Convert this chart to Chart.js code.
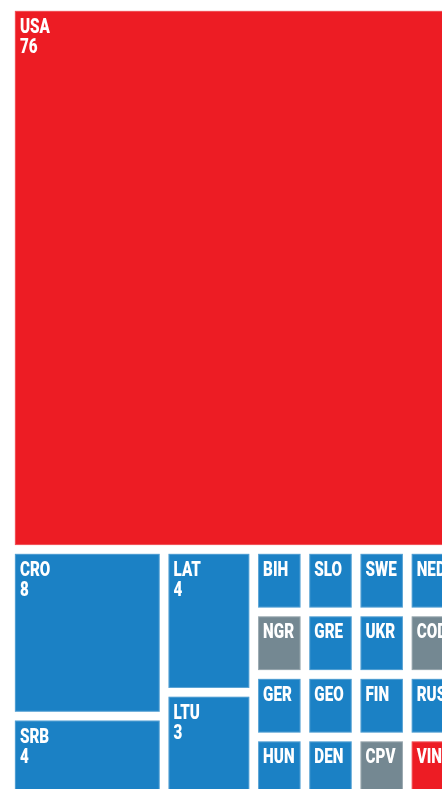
<!DOCTYPE html>
<html>
<head>
<meta charset="utf-8">
<script src="https://cdn.jsdelivr.net/npm/chart.js@4.4.1/dist/chart.umd.min.js"></script>
<style>
    html, body { margin: 0; padding: 0; background: #fff; overflow: hidden; }
    #wrap { position: absolute; left: 0; top: 0; width: 470px; height: 810px; }
</style>
</head>
<body>
<div id="wrap"><canvas id="treeChart"></canvas></div>
<script>
// medal counts per country (treemap cells)
const countries = ['USA', 'CRO', 'SRB', 'LAT', 'LTU',
    'BIH', 'SLO', 'SWE', 'NED', 'NGR', 'GER', 'HUN', 'GRE',
    'UKR', 'COD', 'GEO', 'DEN', 'FIN', 'RUS', 'CPV', 'VIN'];
const values = [76, 8, 4, 4, 3,
    1, 1, 1, 1, 1, 1, 1, 1,
    1, 1, 1, 1, 1, 1, 1, 1];
const regions = ['america', 'europe', 'europe', 'europe', 'europe',
    'europe', 'europe', 'europe', 'europe', 'africa', 'europe', 'europe', 'europe',
    'europe', 'africa', 'europe', 'europe', 'europe', 'europe', 'africa', 'america'];

const regionColors = {
    america: '#ed1c24',
    europe: '#1b81c5',
    africa: '#748892'
};

document.addEventListener('DOMContentLoaded', () => {
    const pad = { left: 10.5, top: 6.5, right: 11.5, bottom: 10.5 };
    const plotW = 470 - pad.left - pad.right;
    const plotH = 810 - pad.top - pad.bottom;

    // layout space: width 100, height keeps the plot aspect so cells come out square-ish
    const spanX = 100;
    const spanY = 100 * plotH / plotW;
    const total = values.reduce((a, b) => a + b, 0);

    function worst(row, side) {
        const s = row.reduce((a, r) => a + r.area, 0);
        let mx = 0;
        for (const r of row) {
            mx = Math.max(mx, side * side * r.area / (s * s), (s * s) / (side * side * r.area));
        }
        return mx;
    }

    // squarified treemap
    function squarify(items, x, y, w, h) {
        const out = [];
        let i = 0;
        while (i < items.length) {
            const side = Math.min(w, h);
            const row = [items[i++]];
            while (i < items.length && worst(row.concat([items[i]]), side) <= worst(row, side)) {
                row.push(items[i++]);
            }
            const s = row.reduce((a, r) => a + r.area, 0);
            if (w >= h) {
                const cw = s / h;
                let cy = y;
                for (const r of row) {
                    const rh = r.area / cw;
                    out.push(Object.assign({}, r, { x0: x, x1: x + cw, y0: cy, y1: cy + rh }));
                    cy += rh;
                }
                x += cw; w -= cw;
            } else {
                const rh = s / w;
                let cx = x;
                for (const r of row) {
                    const rw = r.area / rh;
                    out.push(Object.assign({}, r, { x0: cx, x1: cx + rw, y0: y, y1: y + rh }));
                    cx += rw;
                }
                y += rh; h -= rh;
            }
        }
        return out;
    }

    const items = countries.map((c, i) => ({
        label: c,
        value: values[i],
        color: regionColors[regions[i]],
        area: values[i] / total * spanX * spanY
    }));
    const cells = squarify(items, 0, 0, spanX, spanY).map(c => Object.assign(c, {
        x: (c.x0 + c.x1) / 2,
        y: (c.y0 + c.y1) / 2
    }));

    const cellPlugin = {
        id: 'cells',
        afterDatasetsDraw(chart) {
            const ctx = chart.ctx;
            const xs = chart.scales.x, ys = chart.scales.y;
            const gap = 4.4;
            ctx.save();
            for (const c of chart.data.datasets[0].data) {
                const left = xs.getPixelForValue(c.x0) + gap;
                const right = xs.getPixelForValue(c.x1) - gap;
                const top = ys.getPixelForValue(c.y0) + gap;
                const bottom = ys.getPixelForValue(c.y1) - gap;
                ctx.fillStyle = c.color;
                ctx.fillRect(left, top, right - left, bottom - top);
                ctx.strokeStyle = 'rgba(255,255,255,0.25)';
                ctx.lineWidth = 1;
                ctx.strokeRect(left + 0.5, top + 0.5, right - left - 1, bottom - top - 1);

                ctx.save();
                ctx.beginPath();
                ctx.rect(left, top, right - left, bottom - top);
                ctx.clip();
                ctx.fillStyle = '#fff';
                // condensed look: heavy face squeezed horizontally
                ctx.font = '900 20px Roboto, "DejaVu Sans", sans-serif';
                ctx.textBaseline = 'alphabetic';
                ctx.translate(left + 5, top + 22);
                ctx.scale(0.76, 1);
                ctx.fillText(c.label, 0, 0);
                if (right - left > 60) ctx.fillText(String(c.value), 0, 20);
                ctx.restore();
            }
            ctx.restore();
        }
    };

    const ctx = document.getElementById('treeChart').getContext('2d');
    new Chart(ctx, {
        type: 'scatter',
        data: {
            datasets: [{
                data: cells,
                pointRadius: 0,
                pointHoverRadius: 0
            }]
        },
        options: {
            responsive: true,
            maintainAspectRatio: false,
            animation: false,
            layout: { padding: pad },
            scales: {
                x: { type: 'linear', min: 0, max: spanX, display: false },
                y: { type: 'linear', min: 0, max: spanY, reverse: true, display: false }
            },
            plugins: {
                legend: { display: false },
                tooltip: { enabled: false }
            }
        },
        plugins: [cellPlugin]
    });
});
</script>
</body>
</html>
